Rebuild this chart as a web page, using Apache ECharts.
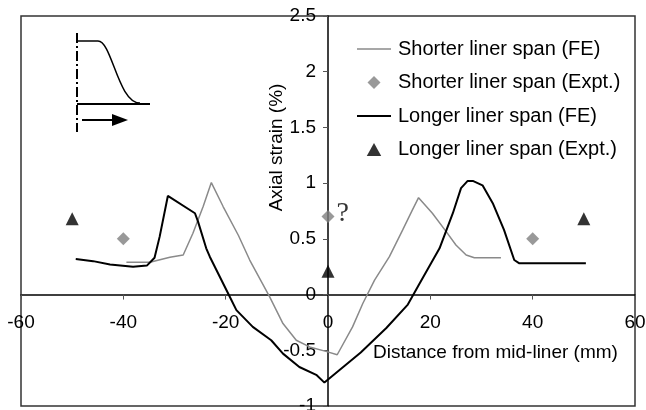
<!DOCTYPE html>
<html>
<head>
<meta charset="utf-8">
<script src="https://cdn.jsdelivr.net/npm/echarts@6/dist/echarts.min.js"></script>
<style>
  html, body { margin: 0; padding: 0; background: #fff; }
  #chart { width: 646px; height: 410px; }
</style>
</head>
<body>
<div id="chart"></div>
<script>
// FE curves: [distance (mm), axial strain (%)]
const shorterFE = [
  [-39.4, 0.29], [-34.8, 0.29], [-30.9, 0.335], [-28.3, 0.355], [-26.4, 0.55],
  [-24.4, 0.79], [-22.8, 1.005], [-20.5, 0.79], [-17.5, 0.53], [-15.3, 0.31],
  [-11.4, -0.02], [-8.8, -0.26], [-6.2, -0.41], [-3.6, -0.47], [-0.4, -0.51],
  [1.8, -0.54], [4.8, -0.29], [6.8, -0.08], [9.1, 0.13], [12, 0.34],
  [14.6, 0.58], [16.5, 0.76], [17.7, 0.87], [20.4, 0.73], [23.1, 0.565],
  [25, 0.445], [27, 0.355], [28.6, 0.33], [33.8, 0.33]
]
const longerFE = [
  [-49.3, 0.32], [-45.9, 0.30], [-42.6, 0.27], [-38.1, 0.25], [-35.4, 0.26],
  [-33.9, 0.33], [-32.9, 0.52], [-31.3, 0.885], [-26.0, 0.73], [-25.4, 0.655],
  [-23.8, 0.415], [-23.1, 0.34], [-19.2, -0.02], [-17.9, -0.14], [-14.7, -0.29],
  [-11.1, -0.41], [-8.8, -0.53], [-5.6, -0.65], [-2.3, -0.72], [-0.7, -0.79],
  [2.2, -0.68], [6.4, -0.52], [11.4, -0.30], [15.6, -0.09], [17.9, 0.10],
  [21.8, 0.415], [24.4, 0.73], [26, 0.955], [27.3, 1.02], [28.3, 1.02],
  [30.2, 0.98], [32.2, 0.82], [34.4, 0.58], [36.4, 0.31], [37.4, 0.28],
  [50.4, 0.28]
]

// experimental points
const shorterExptX = [-40, 0, 40]
const shorterExptY = [0.5, 0.7, 0.5]
const longerExptX = [-50, 0, 50]
const longerExptY = [0.68, 0.21, 0.68]

const seriesNames = [
  'Shorter liner span (FE)',
  'Shorter liner span (Expt.)',
  'Longer liner span (FE)',
  'Longer liner span (Expt.)'
]

const FONT = '"Liberation Sans", Arial, sans-serif'

// plot box in pixels (the axes cross at 0,0 inside it)
const W = 646, H = 410
const gridL = 21, gridR = 11, gridT = 16, gridB = 4
const xMin = -60, xMax = 60, yMin = -1, yMax = 2.5
const plotW = W - gridL - gridR
const plotH = H - gridT - gridB
// move the axes from the box edges to the zero lines
const xAxisOffset = -plotH * (0 - yMin) / (yMax - yMin)
const yAxisOffset = -plotW * (0 - xMin) / (xMax - xMin)

const chart = echarts.init(document.getElementById('chart'))

const option = {
  backgroundColor: '#fff',
  animation: false,
  textStyle: { fontFamily: FONT, color: '#000' },
  title: {
    text: 'Distance from mid-liner (mm)',
    left: 373,
    top: 343,
    padding: 0,
    textStyle: { fontFamily: FONT, fontSize: 19, fontWeight: 'normal', color: '#000' }
  },
  grid: {
    left: gridL, right: gridR, top: gridT, bottom: gridB,
    outerBoundsMode: 'none',
    containLabel: false,
    show: true, borderColor: '#333', borderWidth: 1.5
  },
  legend: {
    orient: 'vertical',
    left: 352,
    top: 34,
    itemWidth: 34,
    itemHeight: 13,
    itemGap: 13.5,
    data: [
      { name: seriesNames[0], icon: 'path://M0,0H34V1.5H0Z' },
      { name: seriesNames[1], icon: 'path://M0,-1L1,0L0,1L-1,0Z' },
      { name: seriesNames[2], icon: 'path://M0,0H34V2H0Z' },
      { name: seriesNames[3], icon: 'path://M0,0L1,1.8L-1,1.8Z' }
    ],
    textStyle: { fontFamily: FONT, fontSize: 20, color: '#000', padding: [0, 0, 0, 2] }
  },
  xAxis: {
    type: 'value',
    min: xMin, max: xMax, interval: 20,
    position: 'bottom',
    offset: xAxisOffset,
    axisLine: { onZero: false, lineStyle: { color: '#000', width: 1.5 } },
    axisTick: { length: 5, lineStyle: { color: '#555' } },
    axisLabel: { fontFamily: FONT, fontSize: 19, color: '#000', margin: 19 },
    splitLine: { show: false }
  },
  yAxis: {
    type: 'value',
    min: yMin, max: yMax, interval: 0.5,
    position: 'left',
    offset: yAxisOffset,
    name: 'Axial strain (%)',
    nameLocation: 'middle',
    nameGap: 42,
    nameMoveOverlap: false,
    nameTextStyle: { fontFamily: FONT, fontSize: 19, color: '#000', padding: [0, 0, 0, 127] },
    axisLine: { onZero: false, lineStyle: { color: '#000', width: 1.5 } },
    axisTick: { length: 5, lineStyle: { color: '#555' } },
    axisLabel: { fontFamily: FONT, fontSize: 19, color: '#000', margin: 12 },
    splitLine: { show: false }
  },
  series: [
    {
      name: seriesNames[0],
      type: 'line',
      data: shorterFE,
      symbol: 'none',
      color: '#8a8a8a',
      lineStyle: { color: '#8a8a8a', width: 1.5 }
    },
    {
      name: seriesNames[1],
      type: 'scatter',
      symbol: 'diamond',
      symbolSize: 13,
      color: '#808080',
      data: shorterExptX.map((x, i) => {
        const item = { value: [x, shorterExptY[i]] }
        if (x === 0) {
          item.label = {
            show: true, formatter: '?', position: 'right', distance: 2, offset: [0, -3],
            fontFamily: '"Liberation Serif", "Times New Roman", serif', fontSize: 28, color: '#000'
          }
        }
        return item
      })
    },
    {
      name: seriesNames[2],
      type: 'line',
      data: longerFE,
      symbol: 'none',
      color: '#000',
      lineStyle: { color: '#000', width: 2 }
    },
    {
      name: seriesNames[3],
      type: 'scatter',
      symbol: 'triangle',
      symbolSize: 13,
      color: '#000',
      data: longerExptX.map((x, i) => [x, longerExptY[i]])
    }
  ],
  // schematic inset in the top-left corner
  graphic: [
    { type: 'line', shape: { x1: 77, y1: 33, x2: 77, y2: 132 },
      style: { stroke: '#000', lineWidth: 2, lineDash: [10, 3, 2, 3] } },
    { type: 'line', shape: { x1: 77, y1: 41, x2: 98, y2: 41 },
      style: { stroke: '#000', lineWidth: 1.5 } },
    { type: 'bezierCurve', shape: { x1: 98, y1: 41, cpx1: 112, cpy1: 41, cpx2: 118, cpy2: 103, x2: 140, y2: 103 },
      style: { stroke: '#000', lineWidth: 1.5, fill: null } },
    { type: 'line', shape: { x1: 77, y1: 104, x2: 150, y2: 104 },
      style: { stroke: '#000', lineWidth: 2 } },
    { type: 'line', shape: { x1: 82, y1: 120, x2: 114, y2: 120 },
      style: { stroke: '#000', lineWidth: 2 } },
    { type: 'polygon', shape: { points: [[112, 114], [128, 120], [112, 126]] },
      style: { fill: '#000' } }
  ]
}

chart.setOption(option)
</script>
</body>
</html>
